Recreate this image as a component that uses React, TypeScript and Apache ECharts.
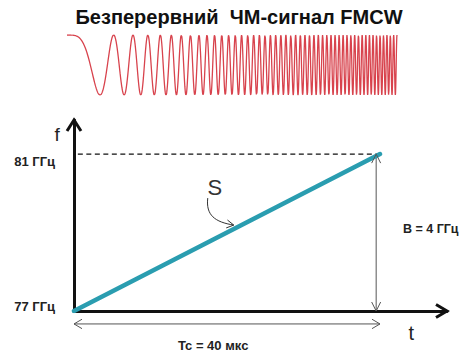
import React, { useEffect, useRef } from "react";
import * as echarts from "echarts";

// Sweep of the FMCW chirp
const SWEEP_T = [0, 40]; // мкс
const SWEEP_F = [77, 81]; // ГГц
const Y_LABEL_VALUES = [77, 81];
const Y_LABEL_TEXT = ["77 ГГц", "81 ГГц"];
const CHIRP_CYCLES = 50; // cycles in the drawn waveform
const CHIRP_SAMPLES = 1800;

const TITLE = "Безперервний  ЧМ-сигнал FMCW";
const B_LABEL = "B = 4 ГГц";
const TC_LABEL = "Tc = 40 мкс";
const S_LABEL = "S";

// Axis extents (arrow tips)
const T_AXIS_MAX = 48.76;
const F_AXIS_MAX = 81.87;

// annotation anchors (data coordinates)
const B_ARROW_T = 39.5;
const TC_ARROW_F = 76.67;
const B_LABEL_POS = [43.0, 79.09];
const TC_LABEL_POS = [18.2, 76.11];
const S_LABEL_POS = [18.4, 80.16];
const F_NAME_POS = [-2.2, 81.51];
const T_NAME_POS = [44.1, 76.44];

const FONT = '"Liberation Sans", Arial, sans-serif';

export default function App() {
  const ref = useRef<HTMLDivElement>(null);
  useEffect(() => {
    const chart = echarts.init(ref.current!, null, { renderer: "svg" });
    const [t0, t1] = SWEEP_T;
    const chirp: number[][] = [];
    for (let i = 0; i <= CHIRP_SAMPLES; i++) {
      const u = i / CHIRP_SAMPLES;
      chirp.push([t0 + u * (t1 - t0), Math.cos(2 * Math.PI * CHIRP_CYCLES * u * u)]);
    }
    const sweep = SWEEP_T.map((t, i) => [t, SWEEP_F[i]]);

    chart.setOption({
      animation: false,
      grid: [
        { left: 67, top: 35, width: 330, height: 60 },
        { left: 74, top: 120, width: 373, height: 191 },
      ],
      xAxis: [
        { gridIndex: 0, type: "value", min: t0, max: t1, show: false },
        {
          gridIndex: 1, type: "value", min: 0, max: T_AXIS_MAX,
          axisLine: { show: true, lineStyle: { color: "#111", width: 3 } },
          axisTick: { show: false }, axisLabel: { show: false }, splitLine: { show: false },
        },
      ],
      yAxis: [
        { gridIndex: 0, type: "value", min: -1, max: 1, show: false },
        {
          gridIndex: 1, type: "value", min: SWEEP_F[0], max: F_AXIS_MAX,
          axisLine: { show: true, lineStyle: { color: "#111", width: 3 } },
          axisTick: { show: false }, splitLine: { show: false },
          axisLabel: {
            show: true,
            customValues: Y_LABEL_VALUES,
            margin: 19,
            formatter: (v: number) => {
              const i = Y_LABEL_VALUES.indexOf(v);
              if (i < 0) return "";
              return v === SWEEP_F[1] ? `{lo|${Y_LABEL_TEXT[i]}}` : `{hi|${Y_LABEL_TEXT[i]}}`;
            },
            rich: {
              lo: { fontSize: 13, fontWeight: "bold", color: "#222", fontFamily: FONT, padding: [15, 0, 0, 0] },
              hi: { fontSize: 13, fontWeight: "bold", color: "#222", fontFamily: FONT, padding: [0, 0, 9, 0] },
            },
          },
        },
      ],
      series: [
        {
          type: "line", xAxisIndex: 0, yAxisIndex: 0, data: chirp, symbol: "none",
          lineStyle: { color: "#d8434d", width: 1.3 }, silent: true,
        },
        {
          type: "line", xAxisIndex: 1, yAxisIndex: 1,
          data: [[0.5, SWEEP_F[1]], [SWEEP_T[1], SWEEP_F[1]]], symbol: "none",
          lineStyle: { color: "#111", width: 1.3, type: [5, 3.5] }, z: 2,
        },
        {
          type: "line", xAxisIndex: 1, yAxisIndex: 1, data: sweep, symbol: "none",
          lineStyle: { color: "#2a9db0", width: 4.5, cap: "round" }, z: 4,
        },
      ],
    });

    const P = (t: number, f: number) => chart.convertToPixel({ gridIndex: 1 }, [t, f]) as number[];
    const head = (tip: number[], dir: number[], len: number, half: number) => {
      const L = Math.hypot(dir[0], dir[1]);
      const dx = dir[0] / L, dy = dir[1] / L;
      return [
        [tip[0] - len * dx - half * dy, tip[1] - len * dy + half * dx],
        tip,
        [tip[0] - len * dx + half * dy, tip[1] - len * dy - half * dx],
      ];
    };
    const poly = (pts: number[][], stroke: string, w: number, z = 5) => ({
      type: "polyline", z, shape: { points: pts }, style: { stroke, lineWidth: w, fill: "none", lineJoin: "miter" },
    });
    const line = (a: number[], b: number[], stroke: string, w: number) => ({
      type: "line", z: 3, shape: { x1: a[0], y1: a[1], x2: b[0], y2: b[1] }, style: { stroke, lineWidth: w },
    });
    const text = (p: number[], s: string, font: string, align: string, fill = "#222") => ({
      type: "text", z: 6, x: p[0], y: p[1],
      style: { text: s, font, fill, textAlign: align, align, textVerticalAlign: "middle", verticalAlign: "middle" },
    });

    const yTip = P(0, F_AXIS_MAX);
    const xTip = P(T_AXIS_MAX, SWEEP_F[0]);
    const bTop = P(B_ARROW_T, SWEEP_F[1]);
    const bBot = P(B_ARROW_T, SWEEP_F[0]);
    const tcL = P(SWEEP_T[0], TC_ARROW_F);
    const tcR = P(SWEEP_T[1], TC_ARROW_F);
    const s = P(S_LABEL_POS[0], S_LABEL_POS[1]);
    const sStart = [s[0] - 7, s[1] + 11];
    const sEnd = [s[0] + 19, s[1] + 38];
    const cp1 = [s[0] - 9, s[1] + 28];
    const cp2 = [s[0], s[1] + 35];

    const gray = "#555";
    chart.setOption({
      graphic: [
        poly(head(yTip, [0, -1], 11, 7), "#111", 3),
        poly(head(xTip, [1, 0], 11, 6.5), "#111", 3),
        line(bTop, bBot, gray, 1),
        poly(head(bTop, [0, -1], 9, 4.5), gray, 1),
        poly(head(bBot, [0, 1], 9, 4.5), gray, 1),
        line(tcL, tcR, gray, 1),
        poly(head(tcL, [-1, 0], 8, 4.7), gray, 1),
        poly(head(tcR, [1, 0], 8, 4.7), gray, 1),
        {
          type: "bezierCurve", z: 5,
          shape: { x1: sStart[0], y1: sStart[1], cpx1: cp1[0], cpy1: cp1[1], cpx2: cp2[0], cpy2: cp2[1], x2: sEnd[0], y2: sEnd[1] },
          style: { stroke: "#333", lineWidth: 1, fill: "none" },
        },
        poly(head(sEnd, [sEnd[0] - cp2[0], sEnd[1] - cp2[1]], 7, 4), "#333", 1),
        text([239, 17], TITLE, `bold 20px ${FONT}`, "center", "#111"),
        text(s, S_LABEL, `22px ${FONT}`, "center", "#333"),
        text(P(F_NAME_POS[0], F_NAME_POS[1]), "f", `19px ${FONT}`, "center", "#222"),
        text(P(T_NAME_POS[0], T_NAME_POS[1]), "t", `20px ${FONT}`, "center", "#222"),
        text(P(B_LABEL_POS[0], B_LABEL_POS[1]), B_LABEL, `bold 12.5px ${FONT}`, "left"),
        text(P(TC_LABEL_POS[0], TC_LABEL_POS[1]), TC_LABEL, `bold 13px ${FONT}`, "center"),
      ],
    });

    return () => chart.dispose();
  }, []);

  return (
    <div
      ref={ref}
      style={{ position: "fixed", left: 0, top: 0, width: 468, height: 353, background: "#fff" }}
    />
  );
}
